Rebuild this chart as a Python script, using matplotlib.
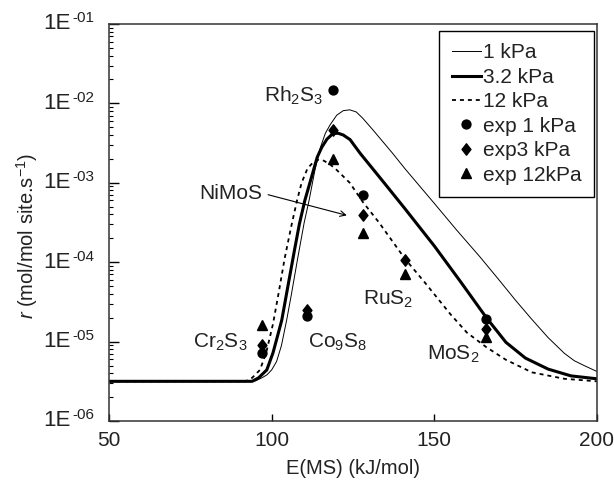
import numpy as np
import matplotlib
matplotlib.use("Agg")
import matplotlib.pyplot as plt
from matplotlib.path import Path

plt.rcParams['font.family'] = ['Liberation Sans', 'DejaVu Sans']
plt.rcParams['mathtext.fontset'] = 'custom'
plt.rcParams['mathtext.rm'] = 'Liberation Sans'
plt.rcParams['mathtext.it'] = 'Liberation Sans:italic'
plt.rcParams['mathtext.bf'] = 'Liberation Sans:bold'

# ---- model curves ----
x_1kpa = [50, 93, 95, 97, 98.5, 100, 101.5, 103, 104.6, 106, 108, 110, 111.5, 113.3, 115, 116.5,
          118, 120, 122, 124, 126, 128, 131, 137, 141, 150, 157, 164, 170, 175, 180, 185, 190,
          193, 196, 200]
r_1kpa = [3.16e-6, 3.16e-6, 3.2e-6, 3.5e-6, 3.8e-6, 4.4e-6, 5.6e-6, 8.9e-6, 1.86e-5, 3.8e-5,
          1.12e-4, 3.16e-4, 6.0e-4, 1.45e-3, 2.8e-3, 4.2e-3, 5.4e-3, 7.1e-3, 8.1e-3, 8.3e-3,
          7.8e-3, 6.5e-3, 4.7e-3, 2.4e-3, 1.5e-3, 5.5e-4, 2.5e-4, 1.17e-4, 5.9e-5, 3.3e-5,
          1.9e-5, 1.12e-5, 7.1e-6, 5.75e-6, 5.0e-6, 4.2e-6]

x_3kpa = [50, 94, 96, 98.5, 100.4, 102, 103.1, 105, 107, 108.5, 110.2, 112.3, 114, 115.4, 117,
          118.9, 120.5, 122, 124.1, 127.2, 130.2, 135, 141, 150, 157.9, 166, 172, 178, 185, 192, 200]
r_3kpa = [3.16e-6, 3.16e-6, 3.5e-6, 4.4e-6, 7.2e-6, 1.26e-5, 1.86e-5, 5.0e-5, 1.41e-4, 3.0e-4,
          6.0e-4, 1.2e-3, 2.1e-3, 2.8e-3, 3.55e-3, 4.2e-3, 4.2e-3, 4.0e-3, 3.5e-3, 2.35e-3,
          1.66e-3, 9.5e-4, 4.7e-4, 1.6e-4, 5.8e-5, 2.0e-5, 9.8e-6, 6.2e-6, 4.5e-6, 3.7e-6, 3.4e-6]

x_12kpa = [50, 92, 94, 96.4, 98.3, 100.4, 102, 104, 106, 107.8, 109.2, 111, 113, 114.5, 116, 118,
           120, 124, 128, 133, 141, 147, 155, 160, 166, 172, 180, 190, 200]
r_12kpa = [3.16e-6, 3.16e-6, 3.5e-6, 4.4e-6, 7.2e-6, 1.66e-5, 3.8e-5, 1.12e-4, 2.8e-4, 6.0e-4,
           1.0e-3, 1.51e-3, 1.86e-3, 1.95e-3, 1.9e-3, 1.7e-3, 1.45e-3, 1.0e-3, 5.75e-4, 3.16e-4,
           1.1e-4, 5.6e-5, 2.2e-5, 1.3e-5, 8.5e-6, 5.9e-6, 4.1e-6, 3.4e-6, 3.16e-6]

# ---- experimental points ----
xe_1 = [97, 111, 119, 128, 166]
re_1 = [7.2e-6, 2.1e-5, 1.48e-2, 7.1e-4, 1.9e-5]
xe_3 = [97, 111, 119, 128, 141, 166]
re_3 = [9.0e-6, 2.5e-5, 4.6e-3, 3.9e-4, 1.07e-4, 1.45e-5]
xe_12 = [97, 119, 128, 141, 166]
re_12 = [1.6e-5, 2.0e-3, 2.3e-4, 7.1e-5, 1.15e-5]

# ---- labels ----
lab_text = [r'Rh$_2$S$_3$', 'NiMoS', r'Cr$_2$S$_3$', r'Co$_9$S$_8$', r'RuS$_2$', r'MoS$_2$']
lab_x = [106.6, 87.5, 84.1, 120.2, 135.9, 155.9]
lab_y = [1.05e-2, 6.2e-4, 8.3e-6, 8.5e-6, 2.9e-5, 5.9e-6]

fig = plt.figure(figsize=(6.14, 4.8), dpi=100)
ax = fig.add_axes([109/614, 1-421/480, (597-109)/614, (421-24)/480])

ax.plot(x_1kpa, r_1kpa, color='black', lw=0.7, label='1 kPa')
ax.plot(x_3kpa, r_3kpa, color='black', lw=2.2, label='3.2 kPa')
ax.plot(x_12kpa, r_12kpa, color='black', lw=1.3, ls=(0, (2.2, 2.2)), label='12 kPa')

diamond = Path([(0, 1), (0.78, 0), (0, -1), (-0.78, 0), (0, 1)],
               [Path.MOVETO, Path.LINETO, Path.LINETO, Path.LINETO, Path.CLOSEPOLY])
ax.plot(xe_1, re_1, ls='none', marker='o', ms=6.4, color='black', label='exp 1 kPa')
ax.plot(xe_3, re_3, ls='none', marker=diamond, ms=8.2, color='black', label='exp3 kPa')
ax.plot(xe_12, re_12, ls='none', marker='^', ms=6.8, color='black', label='exp 12kPa')

for t, x, y in zip(lab_text, lab_x, lab_y):
    ax.text(x, y, t, fontsize=15, ha='center', va='baseline', color='#222222')

ax.annotate('', xy=(123.1, 10**-3.41), xytext=(98.9, 10**-3.15),
            arrowprops=dict(arrowstyle='->', color='black', lw=0.8,
                            shrinkA=0, shrinkB=0, mutation_scale=10))

ax.set_yscale('log')
ax.set_xlim(50, 200)
ax.set_ylim(1e-6, 1e-1)
ax.set_xticks([50, 100, 150, 200])
ax.set_xticklabels(['50', '100', '150', '200'], fontsize=15, color='#222222')
ax.tick_params(axis='x', which='both', direction='in', length=5, width=1, pad=7.5)
ax.tick_params(axis='y', which='major', direction='in', length=7, width=1)
ax.tick_params(axis='y', which='minor', direction='in', length=3, width=0.8)
ax.yaxis.set_major_locator(matplotlib.ticker.LogLocator(base=10, numticks=10))
ax.yaxis.set_minor_locator(matplotlib.ticker.LogLocator(base=10, subs=np.arange(2, 10), numticks=20))
ax.yaxis.set_minor_formatter(matplotlib.ticker.NullFormatter())
ax.yaxis.set_major_formatter(matplotlib.ticker.NullFormatter())

for k in range(-6, 0):
    ax.annotate('1E', xy=(0, 10**k), xycoords=('axes fraction', 'data'),
                xytext=(-27.4, 0), textcoords='offset points', ha='right', va='center',
                fontsize=16, color='#222222')
    ax.annotate('-0%d' % (-k), xy=(0, 10**k), xycoords=('axes fraction', 'data'),
                xytext=(-26.3, 4), textcoords='offset points', ha='left', va='center',
                fontsize=11, color='#222222')

for s in ax.spines.values():
    s.set_linewidth(1.1)
    s.set_color('#333333')

ax.set_xlabel('E(MS) (kJ/mol)', fontsize=14.5, color='#222222', labelpad=6.5)
fig.text(27.5/614, 1-236/480, r'$\mathit{r}$ (mol/mol site.s$^{\mathrm{-1}}$)',
         rotation=90, ha='center', va='center', fontsize=14.5, color='#222222')

leg = ax.legend(loc='upper right', bbox_to_anchor=(594/614, 1-31/480), bbox_transform=fig.transFigure,
                fontsize=15, frameon=True, fancybox=False, framealpha=1, edgecolor='black',
                handlelength=1.4, handletextpad=0.1, labelspacing=0.26, borderpad=0.6,
                borderaxespad=0)
leg.get_frame().set_linewidth(1.0)
for txt in leg.get_texts():
    txt.set_color('#222222')

fig.savefig('out.png', dpi=100)
